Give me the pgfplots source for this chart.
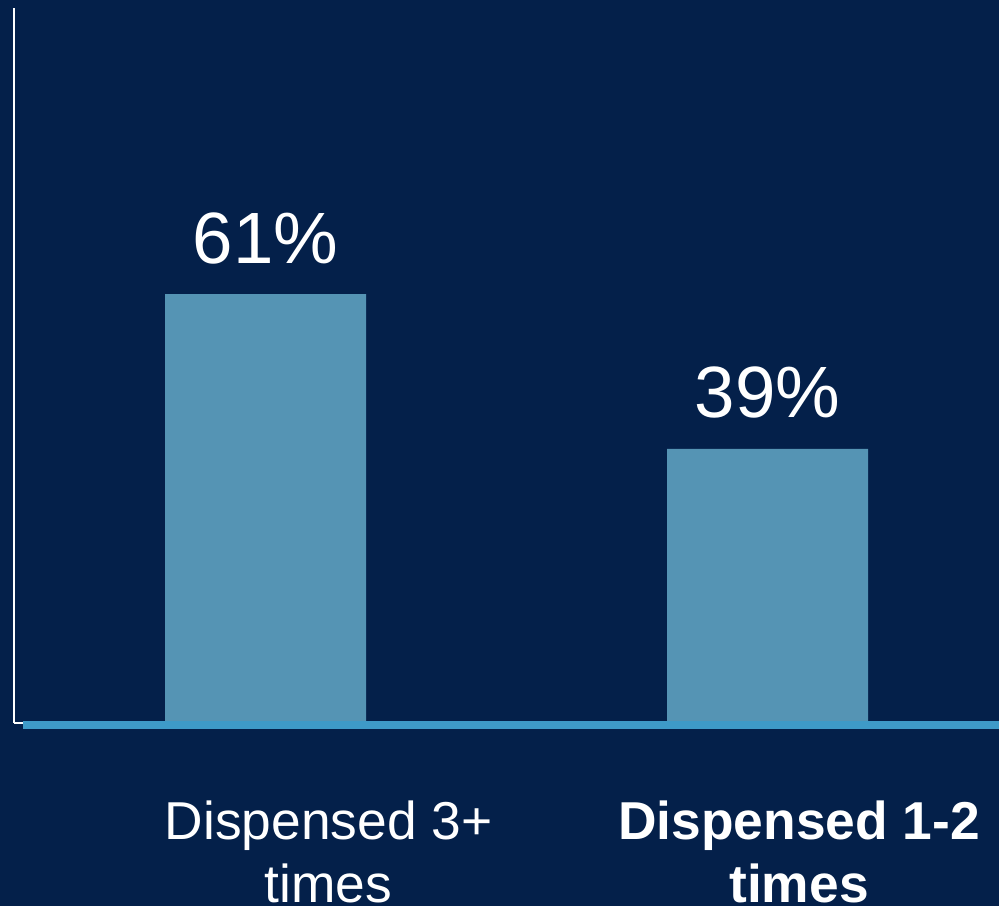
\documentclass[border=0pt]{standalone}
\usepackage{pgfplots}
\pgfplotsset{compat=1.18}
\usepackage{fontspec}
\setmainfont{Liberation Sans}
\definecolor{bg}{RGB}{4,32,74}
\definecolor{barc}{RGB}{85,148,180}
\definecolor{basec}{RGB}{62,154,200}
\begin{document}
\begin{tikzpicture}
\path[use as bounding box] (0pt,0pt) rectangle (749.25pt,679.5pt);
\clip (0pt,0pt) rectangle (749.25pt,679.5pt);
\fill[bg] (0pt,0pt) rectangle (749.25pt,679.5pt);
\begin{axis}[
  at={(10.5pt,137.25pt)}, anchor=south west,
  scale only axis,
  width=738.75pt, height=536.25pt,
  xmin=-0.501, xmax=1.461,
  ymin=0, ymax=101.7,
  axis x line*=bottom, axis y line*=left,
  axis line style={white, line width=1.8pt, -},
  x axis line style={line width=0.8pt},
  ytick=\empty,
  xtick={0.1255,1.0627},
  xticklabels={{Dispensed 3+\\times},{\textbf{Dispensed 1-2}\\\textbf{times}}},
  major tick length=0pt,
  xticklabel style={align=center, anchor=north, inner sep=0pt, yshift=-58pt,
    font=\fontsize{40}{47.5}\selectfont, text=white},
  clip=false,
  ybar, bar width=150.75pt,
  point meta=explicit symbolic,
  nodes near coords,
  nodes near coords style={anchor=base, yshift=23.25pt, text=white,
    font=\fontsize{54.5}{60}\selectfont},
]
\addplot[fill=barc, draw=none, bar shift=0pt] coordinates {(0,61) [61\%] (1,39) [39\%]};
\addplot[sharp plot, nodes near coords={}, basec, line width=6pt] coordinates {(-0.483,-0.284) (1.461,-0.284)};
\end{axis}
\end{tikzpicture}
\end{document}
